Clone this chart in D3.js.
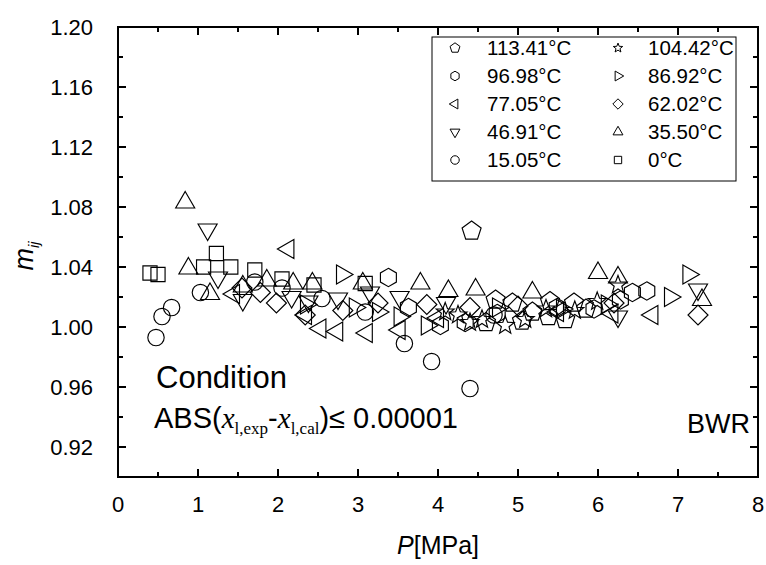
<!DOCTYPE html>
<html><head><meta charset="utf-8">
<script src="https://cdn.jsdelivr.net/npm/d3@7"></script>
<style>body{margin:0;background:#fff}svg{display:block}text{font-family:"Liberation Sans",Arial,sans-serif}</style>
</head><body>
<script>
const legendLabels = ["113.41°C","104.42°C","96.98°C","86.92°C","77.05°C","62.02°C","46.91°C","35.50°C","15.05°C","0°C"];
const symbolKinds = ["pentagon","star","hexagon","right","left","diamond","down","up","circle","square"];

const s113 = [[4.42,1.064],[4.72,1.018],[4.93,1.016],[5.18,1.010],[5.38,1.007],[5.59,1.005],[5.40,1.017],[5.70,1.016],[4.60,1.003],[5.05,1.004],[5.85,1.012]];
const s104 = [[4.09,1.010],[4.25,1.008],[4.55,1.005],[4.84,1.001],[5.09,1.005],[5.71,1.011],[5.99,1.017],[6.25,1.028],[4.40,1.003],[5.35,1.012]];
const s97  = [[3.38,1.033],[3.63,1.013],[4.03,1.001],[4.34,1.003],[4.74,1.009],[5.49,1.013],[6.28,1.018],[6.43,1.023],[6.61,1.024],[5.95,1.012]];
const s87  = [[2.80,1.035],[2.96,1.013],[3.25,1.010],[3.52,1.007],[3.86,1.001],[4.75,1.013],[5.55,1.012],[6.11,1.015],[6.90,1.020],[7.13,1.035],[2.35,1.015]];
const s77  = [[1.45,1.022],[2.13,1.052],[2.35,1.008],[2.53,0.999],[2.74,0.997],[3.11,0.996],[3.52,0.998],[4.00,1.006],[6.18,1.009],[6.68,1.008],[5.50,1.010]];
const s62  = [[1.78,1.023],[1.98,1.016],[2.34,1.008],[2.81,1.011],[3.25,1.016],[3.86,1.015],[4.40,1.013],[5.00,1.014],[6.20,1.016],[7.25,1.008],[1.55,1.026]];
const s47  = [[1.12,1.065],[1.25,1.033],[1.56,1.018],[2.17,1.020],[2.38,1.017],[3.15,1.023],[3.52,1.020],[4.10,1.016],[6.25,1.007],[7.25,1.025],[2.75,1.019]];
const s35  = [[0.84,1.083],[0.88,1.039],[1.15,1.022],[1.56,1.027],[1.86,1.031],[2.19,1.029],[2.43,1.029],[3.06,1.029],[3.78,1.029],[4.13,1.024],[4.47,1.025],[5.18,1.023],[6.00,1.036],[6.25,1.033],[7.30,1.018]];
const s15  = [[0.475,0.993],[0.55,1.007],[0.67,1.013],[1.03,1.023],[1.71,1.030],[2.05,1.026],[2.55,1.019],[3.09,1.010],[3.58,0.989],[3.92,0.977],[4.40,0.959],[4.70,1.008]];
const s0   = [[0.40,1.036],[0.50,1.035],[1.07,1.040],[1.23,1.049],[1.41,1.040],[1.71,1.038],[2.05,1.032],[2.45,1.028],[3.09,1.029]];
const seriesData = [s113,s104,s97,s87,s77,s62,s47,s35,s15,s0];

const xTicks = [0,1,2,3,4,5,6,7,8];
const yTicks = [0.92,0.96,1.00,1.04,1.08,1.12,1.16,1.20];

const W=766,H=565;
const L=118,R=758,T=27,B=477;
const x=d3.scaleLinear().domain([0,8]).range([L,R]);
const y=d3.scaleLinear().domain([0.90,1.20]).range([B,T]);

const svg=d3.select("body").append("svg").attr("width",W).attr("height",H);

function poly(n,r,rot){
  const pts=[];
  for(let i=0;i<n;i++){const a=rot+i*2*Math.PI/n;pts.push([r*Math.cos(a),r*Math.sin(a)]);}
  return "M"+pts.map(p=>p[0].toFixed(2)+","+p[1].toFixed(2)).join("L")+"Z";
}
function star(ro,ri){
  const pts=[];
  for(let i=0;i<10;i++){const a=-Math.PI/2+i*Math.PI/5;const r=i%2?ri:ro;pts.push([r*Math.cos(a),r*Math.sin(a)]);}
  return "M"+pts.map(p=>p[0].toFixed(2)+","+p[1].toFixed(2)).join("L")+"Z";
}
function shape(kind,s){
  switch(kind){
    case "pentagon": return poly(5,10*s,-Math.PI/2);
    case "star": return star(9.5*s,4*s);
    case "hexagon": return poly(6,9.2*s,-Math.PI/2);
    case "right": return poly(3,11*s,0);
    case "left": return poly(3,11*s,Math.PI);
    case "diamond": return poly(4,10*s,0);
    case "down": return poly(3,11*s,Math.PI/2);
    case "up": return poly(3,11*s,-Math.PI/2);
    case "circle": return d3.arc()({innerRadius:0,outerRadius:8.2*s,startAngle:0,endAngle:2*Math.PI});
    case "square": return poly(4,10*s,Math.PI/4);
  }
}

// data
seriesData.forEach((arr,i)=>{
  svg.append("g").selectAll("path").data(arr).join("path")
    .attr("transform",d=>`translate(${x(d[0])},${y(d[1])})`)
    .attr("d",shape(symbolKinds[i],1))
    .attr("fill","none").attr("stroke","#000").attr("stroke-width",1.15);
});

// axes frame
const g=svg.append("g");
g.append("rect").attr("x",L).attr("y",T).attr("width",R-L).attr("height",B-T)
  .attr("fill","none").attr("stroke","#000").attr("stroke-width",2);
const major=8,minor=5;
const xMinor=d3.range(0.5,8,1);
const yMinor=d3.range(0.90,1.20,0.04).map(v=>+(v).toFixed(2));
function tickLines(vals,len,isX){
  vals.forEach(v=>{
    if(isX){
      g.append("line").attr("x1",x(v)).attr("x2",x(v)).attr("y1",B).attr("y2",B-len).attr("stroke","#000").attr("stroke-width",2);
      g.append("line").attr("x1",x(v)).attr("x2",x(v)).attr("y1",T).attr("y2",T+len).attr("stroke","#000").attr("stroke-width",2);
    } else {
      g.append("line").attr("y1",y(v)).attr("y2",y(v)).attr("x1",L).attr("x2",L+len).attr("stroke","#000").attr("stroke-width",2);
      g.append("line").attr("y1",y(v)).attr("y2",y(v)).attr("x1",R).attr("x2",R-len).attr("stroke","#000").attr("stroke-width",2);
    }
  });
}
tickLines(xTicks,major,true);
tickLines(xMinor,minor,true);
tickLines(yTicks,major,false);
tickLines(yMinor,minor,false);

g.selectAll(".xl").data(xTicks).join("text").attr("x",d=>x(d)).attr("y",B+35)
  .attr("text-anchor","middle").attr("font-size",22).text(d=>d);
g.selectAll(".yl").data(yTicks).join("text").attr("x",L-25).attr("y",d=>y(d)+8)
  .attr("text-anchor","end").attr("font-size",22).text(d=>d.toFixed(2));

// axis titles
const xt=svg.append("text").attr("x",438).attr("y",554).attr("text-anchor","middle").attr("font-size",25);
xt.append("tspan").attr("font-style","italic").text("P");
xt.append("tspan").text("[MPa]");
const yt=svg.append("text").attr("transform","translate(33,256) rotate(-90)").attr("text-anchor","middle").attr("font-size",27);
yt.append("tspan").attr("font-style","italic").text("m");
yt.append("tspan").attr("font-style","italic").attr("font-size",15).attr("dy",6).text("ij");

// legend
const lg=svg.append("g");
lg.append("rect").attr("x",432).attr("y",37).attr("width",304).attr("height",144).attr("fill","#fff").attr("stroke","#000").attr("stroke-width",1);
legendLabels.forEach((lab,i)=>{
  const col=i%2,row=Math.floor(i/2);
  const sx=col?618:455, tx=col?648:487, yy=48+row*28;
  lg.append("path").attr("transform",`translate(${sx},${yy})`).attr("d",shape(symbolKinds[i],0.52))
    .attr("fill","none").attr("stroke","#000").attr("stroke-width",1);
  lg.append("text").attr("x",tx).attr("y",yy+7).attr("font-size",20.5).text(lab);
});

// annotations
svg.append("text").attr("x",156).attr("y",388).attr("font-size",31).text("Condition");
const serif="Liberation Serif,Times New Roman,serif";
const ab=svg.append("text").attr("x",154).attr("y",428).attr("font-size",29);
ab.append("tspan").text("ABS(");
ab.append("tspan").attr("font-family",serif).attr("font-style","italic").text("x");
ab.append("tspan").attr("font-family",serif).attr("font-size",17).attr("dy",6).text("l,exp");
ab.append("tspan").attr("dy",-6).text("-");
ab.append("tspan").attr("font-family",serif).attr("font-style","italic").text("x");
ab.append("tspan").attr("font-family",serif).attr("font-size",17).attr("dy",6).text("l,cal");
ab.append("tspan").attr("dy",-6).text(")≤ 0.00001");
svg.append("text").attr("x",750).attr("y",433).attr("text-anchor","end").attr("font-size",27).text("BWR");
</script>
</body></html>
